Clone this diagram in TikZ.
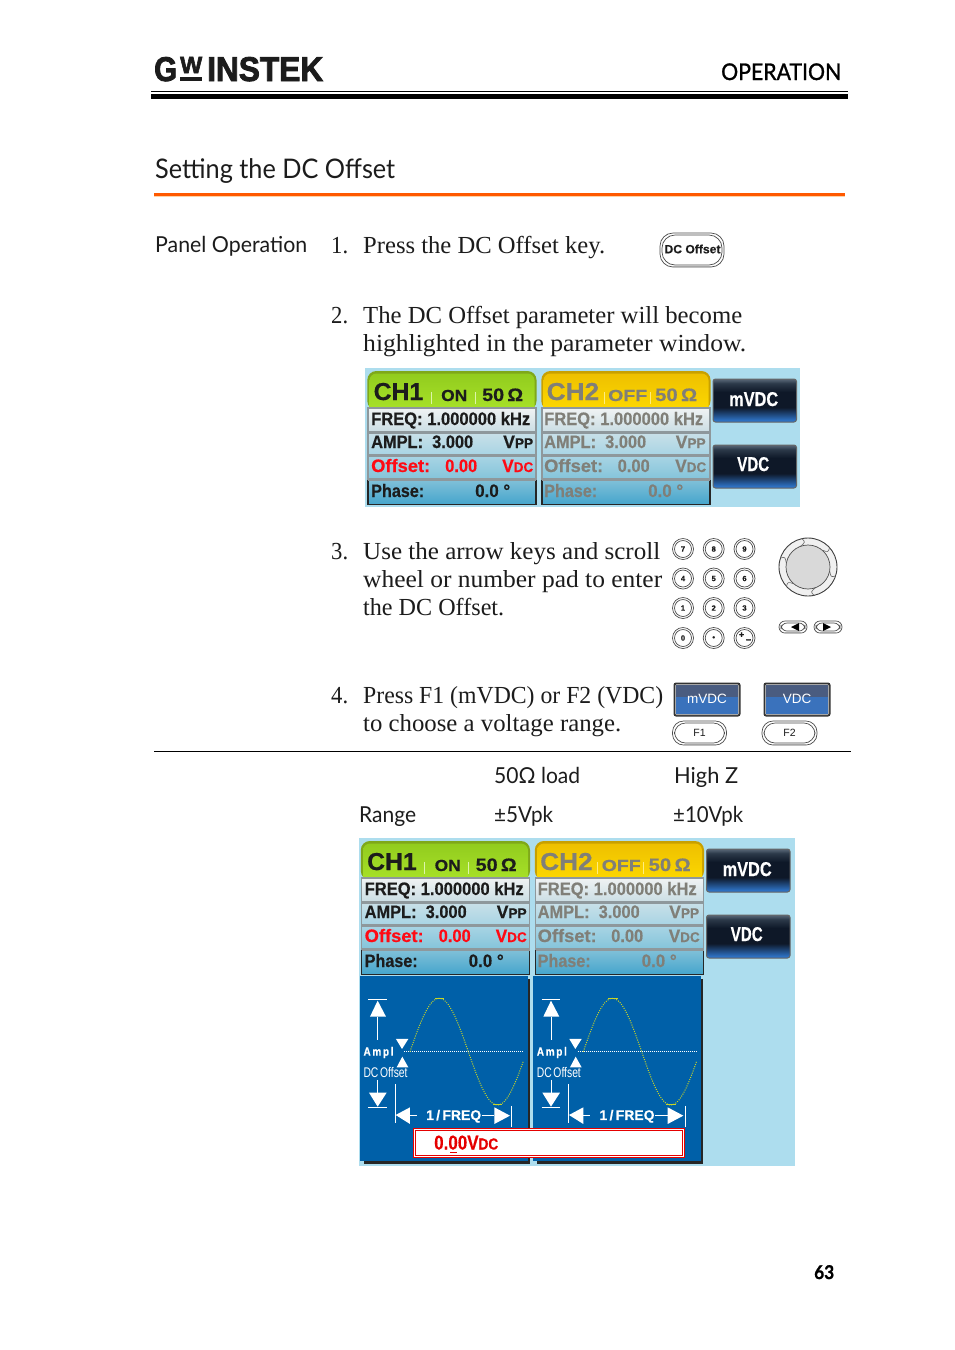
\documentclass[tikz,border=0pt]{standalone}
\usepackage{fontspec}
\usepackage{graphicx}
\usetikzlibrary{calc}
\setmainfont{Liberation Serif}
\newfontfamily\hdf{Lato}
\newfontfamily\hdm{Lato}[FakeBold=1.2]
\newfontfamily\hdb{Lato}[BoldFeatures={FakeBold=1}]
\newfontfamily\arf{Liberation Sans}[BoldFeatures={FakeBold=0.45}]
\newfontfamily\logof{Liberation Sans}[BoldFeatures={FakeBold=2.5}]
\newcommand\lcd[1]{\arf\bfseries\fontsize{#1}{#1}\selectfont}
\newcommand\bod{\rmfamily\fontsize{24.5}{24.5}\selectfont}
\newcommand\hed[1]{\hdf\fontsize{#1}{#1}\selectfont}
\newcommand\fw[2]{\resizebox{#1pt}{\height}{#2}}
\newcounter{tn}
\newcommand\tx[5][]{\stepcounter{tn}\node[anchor=base west,inner sep=0pt,#1] (t\arabic{tn}) at (#2,#3) {\fw{#4}{#5}};}
\newcommand\cx[4][]{\stepcounter{tn}\node[anchor=center,inner sep=0pt,#1] (t\arabic{tn}) at (#2,#3) {#4};}
\definecolor{bgb}{HTML}{ADDDEE}
\definecolor{ink}{HTML}{1C1C1C}
\definecolor{dimt}{HTML}{807F78}
\definecolor{redt}{HTML}{FF0A14}
\definecolor{lcdblue}{HTML}{0060A8}
\definecolor{rowedge}{HTML}{8E989C}
\definecolor{btblue}{HTML}{2E72C4}
\definecolor{btdark}{HTML}{0E1828}
\definecolor{btmid}{HTML}{2C3A4A}
\definecolor{bttop}{HTML}{5A6878}
\definecolor{aRim}{HTML}{7FA81A}\definecolor{aTop}{HTML}{92CC1E}\definecolor{aBot}{HTML}{ABE52A}
\definecolor{bRim}{HTML}{C8A000}\definecolor{bTop}{HTML}{EEC000}\definecolor{bBot}{HTML}{FFDC00}
\definecolor{r1a}{HTML}{F0F3F3}\definecolor{r1b}{HTML}{CADDE4}
\definecolor{r2a}{HTML}{C8E0E8}\definecolor{r2b}{HTML}{A8D4E4}
\definecolor{r3a}{HTML}{A8D4E4}\definecolor{r3b}{HTML}{84C4DA}
\definecolor{r4a}{HTML}{80C0D8}\definecolor{r4b}{HTML}{45A5CC}
\definecolor{fkTop}{HTML}{4A5C80}\definecolor{fkBot}{HTML}{3A72BC}
\definecolor{sineC}{HTML}{C8D428}
\pgfdeclareverticalshading{btnsh}{100bp}{color(0bp)=(btblue); color(27bp)=(btblue); color(42bp)=(btdark); color(60bp)=(btdark); color(70bp)=(btmid); color(75bp)=(bttop); color(100bp)=(bttop)}
\tikzset{
  keyline/.style={draw=black!70,line width=.7pt},
  whiteln/.style={draw=white,line width=.8pt},
  whitetri/.style={fill=white,draw=none}
}
% double outlined key
\newcommand\dkey[5]{%
  \draw[keyline,rounded corners=#5pt] (#1,#2) rectangle (#3,#4);
  \draw[keyline,rounded corners=#5pt] ($(#1,#2)+(2,2)$) rectangle ($(#3,#4)+(-2,-2)$);
  \draw[black!35,line width=1pt] ($(#1,#4)+(#5,-1)$) -- ($(#3,#4)+(-#5,-1)$);
}
% channel block: dx, tab rim, tab top, tab bottom
\newcommand\chan[4]{%
\begin{scope}[xshift=#1pt]
  \fill[#2,rounded corners=9pt] (2.3,3) -- (171.5,3) -- (171.5,42) -- (2.3,42) -- cycle;
  \shade[top color=#3,bottom color=#4,rounded corners=7pt] (4.5,5.5) -- (169.5,5.5) -- (169.5,48) -- (4.5,48) -- cycle;
  \draw[rowedge,line width=1.2pt,top color=r1a,bottom color=r1b] (3,40) rectangle (171,64);
  \draw[rowedge,line width=1.2pt,top color=r2a,bottom color=r2b] (3,65) rectangle (171,87);
  \draw[rowedge,line width=1.2pt,top color=r3a,bottom color=r3b] (3,88) rectangle (171,111);
  \shade[top color=r4a,bottom color=r4b] (3,112) rectangle (171,136.5);
  \draw[black!85,line width=1.8pt] (3,112) -- (3,136.5) -- (171,136.5) -- (171,112);
  \draw[rowedge,line width=1.2pt] (3,112) -- (171,112);
\end{scope}}
% complete parameter window at current origin
\newcommand\paramwin{%
  \fill[bgb] (0,0) rectangle (435,139);
  \chan{0}{aRim}{aTop}{aBot}
  \chan{174}{bRim}{bTop}{bBot}
  % CH1 text
  \tx{8.5}{32}{49.5}{\lcd{24.5}CH1}
  \draw[white!60!aBot,line width=1pt] (66,24) -- (66,36);
  \draw[white!60!aBot,line width=1pt] (110,24) -- (110,36);
  \tx{76}{33}{26}{\lcd{16}ON}
  \tx{117}{33}{41}{\lcd{18}50\,Ω}
  \tx{6}{57}{159}{\lcd{18}FREQ: 1.000000 kHz}
  \tx{6}{80}{102}{\lcd{18}AMPL:\ \ 3.000}
  \tx{138}{80}{30}{\lcd{18}V\lcd{14}PP}
  \tx[text=redt]{6}{104}{59}{\lcd{18}Offset:}
  \tx[text=redt]{80}{104}{32}{\lcd{18}0.00}
  \tx[text=redt]{137}{104}{31}{\lcd{18}V\lcd{14}DC}
  \tx{6}{129}{53}{\lcd{18}Phase:}
  \tx{110}{129}{35}{\lcd{18}0.0 °}
  % CH2 text
  \tx[text=dimt]{181.5}{32}{52.5}{\lcd{24.5}CH2}
  \draw[white!50!bBot,line width=1pt] (239,24) -- (239,36);
  \draw[white!50!bBot,line width=1pt] (285,24) -- (285,36);
  \tx[text=dimt]{243}{33}{39}{\lcd{16}OFF}
  \tx[text=dimt]{290}{33}{42}{\lcd{18}50\,Ω}
  \tx[text=dimt]{179}{57}{159}{\lcd{18}FREQ: 1.000000 kHz}
  \tx[text=dimt]{179}{80}{102}{\lcd{18}AMPL:\ \ 3.000}
  \tx[text=dimt]{310.5}{80}{30}{\lcd{18}V\lcd{14}PP}
  \tx[text=dimt]{179}{104}{59}{\lcd{18}Offset:}
  \tx[text=dimt]{252.5}{104}{32}{\lcd{18}0.00}
  \tx[text=dimt]{310}{104}{31}{\lcd{18}V\lcd{14}DC}
  \tx[text=dimt]{179}{129}{53}{\lcd{18}Phase:}
  \tx[text=dimt]{283}{129}{35}{\lcd{18}0.0 °}
  % softkeys
  \draw[black!60,line width=1pt,rounded corners=2.5pt,shading=btnsh] (348,11) rectangle (431.5,54);
  \draw[black!60,line width=1pt,rounded corners=2.5pt,shading=btnsh] (348,77) rectangle (431.5,120);
  \tx[text=white]{364}{38}{49}{\lcd{20}mVDC}
  \tx[text=white]{372}{103}{32}{\lcd{20}VDC}
}
% waveform window, coordinates in thirds of a pixel
\newcommand\wavewin[1]{%
\begin{scope}[x=.33333pt,y=-.33333pt,shift={(1065+#1,2910)}]
  \fill[black!85] (27,27) rectangle (525,582);
  \fill[lcdblue] (15,18) rectangle (518,572);
  \draw[whiteln] (40,88) -- (95,88);
  \fill[whitetri] (68,92) -- (93,140) -- (45,140) -- cycle;
  \draw[whiteln] (68,140) -- (68,210);
  \fill[whitetri] (123,207) -- (160,207) -- (141,237) -- cycle;
  \fill[whitetri] (125,292) -- (160,292) -- (142,260) -- cycle;
  \draw[white,line width=.8pt,dash pattern=on .9pt off 1.1pt] (148,245) -- (505,245);
  \draw[sineC,line width=1pt,dash pattern=on 1pt off 1.3pt] plot[domain=165:505,samples=90,smooth] (\x,{245-160*sin((\x-165)*1.02857)});
  \draw[sineC,line width=1pt] (240,85) -- (268,85);
  \draw[sineC,line width=1pt] (414,405) -- (442,405);
  \tx[text=white]{25}{257}{30}{\lcd{12}A\,m\,p\,l}
  \tx[text=white]{25}{323}{44}{\arf\fontsize{14}{14}\selectfont DC\,Offset}
  \draw[whiteln] (68,330) -- (68,368);
  \fill[whitetri] (42,368) -- (95,368) -- (68,410) -- cycle;
  \draw[whiteln] (40,413) -- (95,413);
  \draw[whiteln] (120,342) -- (120,460);
  \fill[whitetri] (122,435) -- (165,412) -- (165,462) -- cycle;
  \draw[whiteln] (165,437) -- (185,437);
  \tx[text=white]{213}{450}{55}{\lcd{14}1\,/\,FREQ}
  \draw[whiteln] (380,437) -- (418,437);
  \fill[whitetri] (465,437) -- (418,412) -- (418,462) -- cycle;
  \draw[whiteln] (470,408) -- (470,472);
\end{scope}}
\begin{document}
\begin{tikzpicture}[x=1pt,y=-1pt,text=ink]
\useasboundingbox (0,0) rectangle (954,1350);
\fill[white] (0,0) rectangle (954,1350);
% header
\tx{154}{81}{23}{\resizebox{23pt}{24pt}{\logof\bfseries G}}
\tx{180}{73}{22}{\resizebox{22pt}{16pt}{\logof\bfseries W}}
\fill[ink] (180,76.5) rectangle (202,81);
\tx{207}{81}{116}{\resizebox{116pt}{24pt}{\logof\bfseries INSTEK}}
\tx[text=black]{721}{80}{120}{\hdm\fontsize{23}{23}\selectfont OPERATION}
\fill[black] (151,91) rectangle (848,92.3);
\fill[black] (151,94) rectangle (848,99);
\tx{155}{178}{240}{\hed{27}Setting the DC Offset}
\fill[orange!70!red] (154,193) rectangle (845,195.8);
\fill[orange!35!white] (154,195.8) rectangle (845,197);
% steps
\tx{155}{252}{152}{\hed{22}Panel Operation}
\tx{331}{253}{17}{\bod 1.}
\tx{363}{253}{242}{\bod Press the DC Offset key.}
\dkey{660}{233}{724}{267}{13}
\cx{692.5}{249}{\fw{56}{\lcd{12}DC Offset}}
\tx{331}{323}{17}{\bod 2.}
\tx{363}{323}{379}{\bod The DC Offset parameter will become}
\tx{363}{351}{383}{\bod highlighted in the parameter window.}
\begin{scope}[shift={(365,368)}]
  \paramwin
\end{scope}
\tx{331}{559}{17}{\bod 3.}
\tx{363}{559}{297}{\bod Use the arrow keys and scroll}
\tx{363}{587}{299}{\bod wheel or number pad to enter}
\tx{363}{615}{141}{\bod the DC Offset.}
% number pad
\foreach \lab/\kx/\ky in {7/683/549,8/713.7/549,9/744.5/549,4/683/578.5,5/713.7/578.5,6/744.5/578.5,1/683/608,2/713.7/608,3/744.5/608,0/683/638,•/713.7/638}{
  \draw[keyline] (\kx,\ky) circle (10.5);
  \draw[keyline] (\kx,\ky) circle (8.5);
  \cx{\kx}{\ky}{\lcd{7.5}\lab}
}
\draw[keyline] (744.5,638) circle (10.5);
\draw[keyline] (744.5,638) circle (8.5);
\cx{741.5}{635}{\lcd{9}+}
\cx{748.5}{641}{\lcd{9}−}
% wheel
\fill[black!6] (808,567) circle (29);
\draw[black!75,line width=.9pt] (808,567) circle (29);
\fill[black!15] (808,567) circle (22);
\draw[keyline] (808,567) circle (22);
\foreach \a in {10,70,130,190,250,310}{
  \draw[black!60,line width=.6pt] ($(808,567)+(\a:22)$) .. controls ($(808,567)+(\a+14:25)$) .. ($(808,567)+(\a+8:29)$);
}
% arrow keys
\dkey{779}{621}{807}{633}{6}
\dkey{814}{621}{842}{633}{6}
\fill[black] (791,627) -- (799,623) -- (799,631) -- cycle;
\fill[black] (831,627) -- (823,623) -- (823,631) -- cycle;
\tx{331}{703}{17}{\bod 4.}
\tx{363}{703}{300}{\bod Press F1 (mVDC) or F2 (VDC)}
\tx{363}{731}{258}{\bod to choose a voltage range.}
% softkeys F1 F2
\foreach \bx/\blab in {673.5/mVDC,763.5/VDC}{
  \fill[black!80,rounded corners=2.5pt] (\bx,682.5) rectangle ($(\bx,716.5)+(67,0)$);
  \fill[black!35,rounded corners=1.5pt] ($(\bx,684)+(1.5,0)$) rectangle ($(\bx,715)+(65.5,0)$);
  \fill[fkTop] ($(\bx,685)+(2.5,0)$) rectangle ($(\bx,697)+(64.5,0)$);
  \fill[fkBot] ($(\bx,697)+(2.5,0)$) rectangle ($(\bx,714)+(64.5,0)$);
  \cx[text=white]{\bx+33.5}{699}{\arf\fontsize{13.5}{13.5}\selectfont\blab}
}
\dkey{672.5}{721}{726.5}{745}{11}
\dkey{762}{721}{817}{745}{11}
\cx{699.5}{733}{\arf\fontsize{10.5}{10.5}\selectfont F1}
\cx{789.5}{733}{\arf\fontsize{10.5}{10.5}\selectfont F2}
\draw[black,line width=1pt] (154,751.5) -- (851,751.5);
% table
\tx{494}{783}{86}{\hed{22}50Ω load}
\tx{674}{783}{64}{\hed{22}High Z}
\tx{359}{822}{57}{\hed{22}Range}
\tx{494}{822}{59}{\hed{22}±5Vpk}
\tx{673}{822}{70}{\hed{22}±10Vpk}
% lower window
\begin{scope}[shift={(358.5,838)}]
  \fill[bgb] (0,0) rectangle (436.5,328);
  \paramwin
\end{scope}
\wavewin{0}
\wavewin{520}
\fill[white] (412.7,1127.7) rectangle (685,1158.3);
\draw[red!90!black,line width=1pt] (413.2,1128.2) rectangle (684.5,1157.8);
\draw[red!90!black,line width=1pt] (415.5,1130.5) rectangle (682.2,1155.5);
\tx[text=red!90!black]{434}{1149.5}{64}{\lcd{20}0.00V\lcd{16}DC}
\draw[red!90!black,line width=1pt] (450,1152) -- (457,1152);
% page number
\tx[text=black]{814}{1279}{20}{\hdb\bfseries\fontsize{19}{19}\selectfont 63}
\end{tikzpicture}
\end{document}
